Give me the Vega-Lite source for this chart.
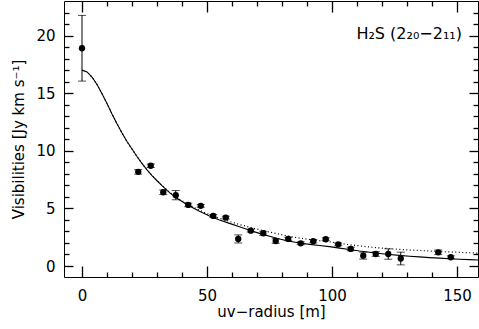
{
  "$schema": "https://vega.github.io/schema/vega-lite/v6.json",
  "width": 414,
  "height": 276,
  "autosize": {"type": "none"},
  "padding": {"left": 64, "top": 1, "right": 1, "bottom": 52},
  "background": "white",
  "config": {
    "view": {"stroke": "black", "strokeWidth": 1},
    "font": "DejaVu Sans",
    "axis": {"domain": false, "grid": false, "tickWidth": 1.3, "labelColor": "black", "labelFontSize": 15, "titleColor": "black", "titleFontSize": 15, "titleFontWeight": "normal"}
  },
  "datasets": {
    "models": [
      {"r": 0, "v": 17.0, "m": "a"}, {"r": 2, "v": 16.85, "m": "a"}, {"r": 4, "v": 16.4, "m": "a"}, {"r": 6, "v": 15.75, "m": "a"}, {"r": 8, "v": 14.95, "m": "a"}, {"r": 10, "v": 14.1, "m": "a"}, {"r": 12, "v": 13.2, "m": "a"}, {"r": 14, "v": 12.35, "m": "a"}, {"r": 16, "v": 11.55, "m": "a"}, {"r": 18, "v": 10.8, "m": "a"}, {"r": 20, "v": 10.15, "m": "a"}, {"r": 22, "v": 9.5, "m": "a"}, {"r": 24, "v": 8.9, "m": "a"}, {"r": 26, "v": 8.35, "m": "a"}, {"r": 28, "v": 7.85, "m": "a"}, {"r": 30, "v": 7.4, "m": "a"}, {"r": 32, "v": 6.97, "m": "a"}, {"r": 34, "v": 6.57, "m": "a"}, {"r": 36, "v": 6.2, "m": "a"}, {"r": 38, "v": 5.88, "m": "a"}, {"r": 40, "v": 5.6, "m": "a"}, {"r": 43, "v": 5.2, "m": "a"}, {"r": 47, "v": 4.75, "m": "a"}, {"r": 51, "v": 4.33, "m": "a"}, {"r": 55, "v": 4.0, "m": "a"}, {"r": 59, "v": 3.7, "m": "a"}, {"r": 63, "v": 3.4, "m": "a"}, {"r": 67, "v": 3.1, "m": "a"}, {"r": 71, "v": 2.83, "m": "a"}, {"r": 75, "v": 2.58, "m": "a"}, {"r": 79, "v": 2.35, "m": "a"}, {"r": 83, "v": 2.15, "m": "a"}, {"r": 87, "v": 2.0, "m": "a"}, {"r": 91, "v": 1.88, "m": "a"}, {"r": 95, "v": 1.78, "m": "a"}, {"r": 99, "v": 1.68, "m": "a"}, {"r": 103, "v": 1.55, "m": "a"}, {"r": 107, "v": 1.43, "m": "a"}, {"r": 111, "v": 1.3, "m": "a"}, {"r": 115, "v": 1.19, "m": "a"}, {"r": 119, "v": 1.09, "m": "a"}, {"r": 123, "v": 1.0, "m": "a"}, {"r": 127, "v": 0.92, "m": "a"}, {"r": 131, "v": 0.85, "m": "a"}, {"r": 135, "v": 0.79, "m": "a"}, {"r": 139, "v": 0.73, "m": "a"}, {"r": 143, "v": 0.68, "m": "a"}, {"r": 147, "v": 0.63, "m": "a"}, {"r": 151, "v": 0.59, "m": "a"}, {"r": 155, "v": 0.55, "m": "a"}, {"r": 158.4, "v": 0.52, "m": "a"},
      {"r": 0, "v": 17.0, "m": "b"}, {"r": 2, "v": 16.85, "m": "b"}, {"r": 4, "v": 16.4, "m": "b"}, {"r": 6, "v": 15.75, "m": "b"}, {"r": 8, "v": 14.95, "m": "b"}, {"r": 10, "v": 14.1, "m": "b"}, {"r": 12, "v": 13.2, "m": "b"}, {"r": 14, "v": 12.35, "m": "b"}, {"r": 16, "v": 11.55, "m": "b"}, {"r": 18, "v": 10.8, "m": "b"}, {"r": 20, "v": 10.15, "m": "b"}, {"r": 22, "v": 9.5, "m": "b"}, {"r": 24, "v": 8.9, "m": "b"}, {"r": 26, "v": 8.35, "m": "b"}, {"r": 28, "v": 7.86, "m": "b"}, {"r": 30, "v": 7.42, "m": "b"}, {"r": 32, "v": 6.99, "m": "b"}, {"r": 34, "v": 6.6, "m": "b"}, {"r": 36, "v": 6.24, "m": "b"}, {"r": 38, "v": 5.93, "m": "b"}, {"r": 40, "v": 5.66, "m": "b"}, {"r": 43, "v": 5.28, "m": "b"}, {"r": 47, "v": 4.85, "m": "b"}, {"r": 51, "v": 4.45, "m": "b"}, {"r": 55, "v": 4.14, "m": "b"}, {"r": 59, "v": 3.87, "m": "b"}, {"r": 63, "v": 3.6, "m": "b"}, {"r": 67, "v": 3.37, "m": "b"}, {"r": 71, "v": 3.15, "m": "b"}, {"r": 75, "v": 2.95, "m": "b"}, {"r": 79, "v": 2.75, "m": "b"}, {"r": 83, "v": 2.57, "m": "b"}, {"r": 87, "v": 2.42, "m": "b"}, {"r": 91, "v": 2.3, "m": "b"}, {"r": 95, "v": 2.2, "m": "b"}, {"r": 99, "v": 2.1, "m": "b"}, {"r": 103, "v": 1.97, "m": "b"}, {"r": 107, "v": 1.85, "m": "b"}, {"r": 111, "v": 1.75, "m": "b"}, {"r": 115, "v": 1.65, "m": "b"}, {"r": 119, "v": 1.57, "m": "b"}, {"r": 123, "v": 1.5, "m": "b"}, {"r": 127, "v": 1.44, "m": "b"}, {"r": 131, "v": 1.39, "m": "b"}, {"r": 135, "v": 1.35, "m": "b"}, {"r": 139, "v": 1.3, "m": "b"}, {"r": 143, "v": 1.26, "m": "b"}, {"r": 147, "v": 1.22, "m": "b"}, {"r": 151, "v": 1.18, "m": "b"}, {"r": 155, "v": 1.15, "m": "b"}, {"r": 158.4, "v": 1.12, "m": "b"}
    ],
    "obs": [
      {"r": 0, "v": 18.9, "lo": 16.05, "hi": 21.75},
      {"r": 22.5, "v": 8.17, "lo": 7.97, "hi": 8.37},
      {"r": 27.5, "v": 8.7, "lo": 8.55, "hi": 8.85},
      {"r": 32.5, "v": 6.4, "lo": 6.2, "hi": 6.6},
      {"r": 37.5, "v": 6.15, "lo": 5.75, "hi": 6.55},
      {"r": 42.5, "v": 5.3, "lo": 5.15, "hi": 5.45},
      {"r": 47.5, "v": 5.22, "lo": 5.1, "hi": 5.34},
      {"r": 52.5, "v": 4.35, "lo": 4.23, "hi": 4.47},
      {"r": 57.5, "v": 4.2, "lo": 4.08, "hi": 4.32},
      {"r": 62.5, "v": 2.35, "lo": 2.0, "hi": 2.7},
      {"r": 67.5, "v": 3.07, "lo": 2.95, "hi": 3.19},
      {"r": 72.5, "v": 2.84, "lo": 2.66, "hi": 3.02},
      {"r": 77.5, "v": 2.17, "lo": 1.97, "hi": 2.37},
      {"r": 82.5, "v": 2.35, "lo": 2.2, "hi": 2.5},
      {"r": 87.5, "v": 1.97, "lo": 1.85, "hi": 2.09},
      {"r": 92.5, "v": 2.15, "lo": 2.0, "hi": 2.3},
      {"r": 97.5, "v": 2.32, "lo": 2.2, "hi": 2.44},
      {"r": 102.5, "v": 1.88, "lo": 1.76, "hi": 2.0},
      {"r": 107.5, "v": 1.48, "lo": 1.33, "hi": 1.63},
      {"r": 112.5, "v": 0.9, "lo": 0.6, "hi": 1.2},
      {"r": 117.5, "v": 1.04, "lo": 0.84, "hi": 1.24},
      {"r": 122.5, "v": 1.04, "lo": 0.59, "hi": 1.49},
      {"r": 127.5, "v": 0.65, "lo": 0.1, "hi": 1.2},
      {"r": 142.5, "v": 1.19, "lo": 0.99, "hi": 1.39},
      {"r": 147.5, "v": 0.76, "lo": 0.64, "hi": 0.88}
    ],
    "label": [{"r": 152, "v": 20.1, "t": "H₂S (2₂₀−2₁₁)"}]
  },
  "layer": [
    {
      "data": {"name": "obs"},
      "mark": {"type": "rule", "color": "black", "strokeWidth": 1},
      "encoding": {
        "x": {"field": "r", "type": "quantitative", "scale": {"domain": [-7.2, 158.4], "nice": false},
          "axis": {"orient": "bottom", "values": [0, 50, 100, 150], "ticks": false, "labelPadding": 11, "title": "uv−radius [m]", "titlePadding": 1}},
        "y": {"field": "lo", "type": "quantitative", "scale": {"domain": [-0.954, 23.0], "nice": false},
          "axis": {"orient": "left", "values": [0, 5, 10, 15, 20], "ticks": false, "labelPadding": 9, "title": "Visibilities [Jy km s⁻¹]", "titlePadding": 9}},
        "y2": {"field": "hi"}
      }
    },
    {
      "data": {"name": "obs"},
      "mark": {"type": "tick", "orient": "horizontal", "color": "black", "size": 8, "thickness": 1},
      "encoding": {
        "x": {"field": "r", "type": "quantitative",
          "axis": {"orient": "bottom", "values": [10, 20, 30, 40, 60, 70, 80, 90, 110, 120, 130, 140], "tickSize": -5, "tickColor": "black", "labels": false, "title": null}},
        "y": {"field": "hi", "type": "quantitative",
          "axis": {"orient": "left", "values": [1, 2, 3, 4, 6, 7, 8, 9, 11, 12, 13, 14, 16, 17, 18, 19, 21, 22], "tickSize": -5, "tickColor": "black", "labels": false, "title": null}}
      }
    },
    {
      "data": {"name": "obs"},
      "mark": {"type": "tick", "orient": "horizontal", "color": "black", "size": 8, "thickness": 1},
      "encoding": {
        "x": {"field": "r", "type": "quantitative",
          "axis": {"orient": "top", "values": [10, 20, 30, 40, 60, 70, 80, 90, 110, 120, 130, 140], "tickSize": -5, "tickColor": "black", "labels": false, "title": null}},
        "y": {"field": "lo", "type": "quantitative",
          "axis": {"orient": "right", "values": [1, 2, 3, 4, 6, 7, 8, 9, 11, 12, 13, 14, 16, 17, 18, 19, 21, 22], "tickSize": -5, "tickColor": "black", "labels": false, "title": null}}
      }
    },
    {
      "data": {"name": "models"},
      "transform": [{"filter": "datum.m === 'a'"}],
      "mark": {"type": "line", "color": "black", "strokeWidth": 1.1},
      "encoding": {
        "x": {"field": "r", "type": "quantitative", "axis": null},
        "y": {"field": "v", "type": "quantitative", "axis": null}
      }
    },
    {
      "data": {"name": "models"},
      "transform": [{"filter": "datum.m === 'b'"}],
      "mark": {"type": "line", "color": "black", "strokeWidth": 1.2, "strokeDash": [1, 2.5]},
      "encoding": {
        "x": {"field": "r", "type": "quantitative", "axis": null},
        "y": {"field": "v", "type": "quantitative", "axis": null}
      }
    },
    {
      "data": {"name": "obs"},
      "mark": {"type": "circle", "color": "black", "size": 40, "opacity": 1},
      "encoding": {
        "x": {"field": "r", "type": "quantitative",
          "axis": {"orient": "bottom", "values": [0, 50, 100, 150], "tickSize": -11, "tickColor": "black", "labels": false, "title": null}},
        "y": {"field": "v", "type": "quantitative",
          "axis": {"orient": "left", "values": [0, 5, 10, 15, 20], "tickSize": -9, "tickColor": "black", "labels": false, "title": null}}
      }
    },
    {
      "data": {"name": "label"},
      "mark": {"type": "text", "align": "right", "baseline": "middle", "fontSize": 16, "color": "black"},
      "encoding": {
        "x": {"field": "r", "type": "quantitative",
          "axis": {"orient": "top", "values": [0, 50, 100, 150], "tickSize": -11, "tickColor": "black", "labels": false, "title": null}},
        "y": {"field": "v", "type": "quantitative",
          "axis": {"orient": "right", "values": [0, 5, 10, 15, 20], "tickSize": -9, "tickColor": "black", "labels": false, "title": null}},
        "text": {"field": "t"}
      }
    }
  ],
  "resolve": {"axis": {"x": "independent", "y": "independent"}}
}
